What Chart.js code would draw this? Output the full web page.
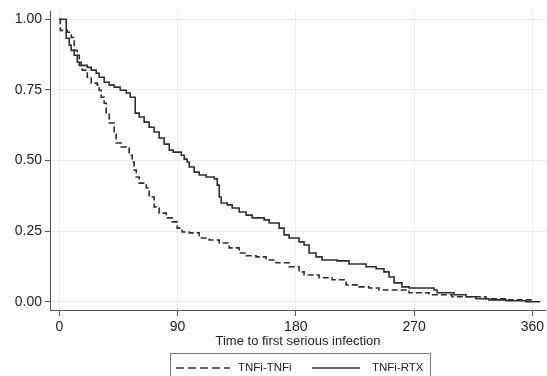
<!DOCTYPE html>
<html>
<head>
    <title>Time to first serious infection</title>
    <script src="https://cdn.jsdelivr.net/npm/chart.js"></script>
    <style>
        html, body { margin: 0; padding: 0; background: white; }
        #wrap { width: 547px; height: 376px; position: relative; }
    </style>
</head>
<body>
<div id="wrap"><canvas id="kmChart" width="547" height="376"></canvas></div>
<script>
    // Kaplan-Meier estimates (days, survival)
    const rtxTime = [0, 5.3, 7.6, 9.1, 11.4, 13.7, 16.7, 21.3, 24.3, 28.1, 30.4, 34.2, 38.0, 41.8, 46.4, 51.0, 54.0,
        57.8, 60.8, 64.6, 68.4, 72.2, 76.0, 79.8, 83.7, 86.7, 92.8, 95.1, 97.3, 98.9, 102.7, 106.5, 111.8, 117.9,
        120.2, 121.7, 123.2, 127.8, 131.6, 136.9, 142.2, 146.8, 155.9, 159.7, 167.3, 171.1, 174.9, 182.5, 186.3,
        190.1, 195.4, 200.0, 211.4, 220.5, 233.5, 241.1, 247.1, 251.0, 254.8, 260.8, 266.2, 285.2, 287.5, 300.4,
        309.5, 317.1, 327.0, 340.0, 355.0, 366.0];
    const rtxSurv = [1.000, 0.933, 0.908, 0.890, 0.873, 0.848, 0.837, 0.830, 0.820, 0.809, 0.795, 0.777, 0.767, 0.760,
        0.749, 0.739, 0.724, 0.668, 0.654, 0.636, 0.618, 0.601, 0.580, 0.558, 0.537, 0.530, 0.519, 0.505, 0.495,
        0.477, 0.459, 0.449, 0.442, 0.435, 0.413, 0.371, 0.350, 0.343, 0.332, 0.318, 0.307, 0.297, 0.290, 0.279,
        0.261, 0.237, 0.226, 0.212, 0.201, 0.173, 0.159, 0.148, 0.145, 0.134, 0.124, 0.117, 0.106, 0.088, 0.067,
        0.053, 0.049, 0.042, 0.032, 0.025, 0.018, 0.011, 0.007, 0.004, 0.000, 0.000];

    const tnfTime = [0, 0.8, 6.1, 9.1, 11.4, 13.7, 15.2, 17.5, 21.3, 24.3, 28.9, 30.4, 31.9, 34.2, 35.7, 38.0, 41.8,
        43.3, 47.1, 51.0, 53.2, 55.5, 57.0, 58.6, 60.8, 66.2, 68.4, 72.2, 76.0, 81.4, 85.9, 89.7, 93.5, 98.9, 106.5,
        114.1, 121.7, 129.3, 136.9, 142.2, 149.8, 157.4, 165.0, 174.9, 182.5, 186.3, 197.7, 207.6, 218.3, 228.1,
        235.7, 243.3, 266.2, 281.4, 298.9, 324.7, 342.0, 361.0];
    const tnfSurv = [1.000, 0.961, 0.954, 0.936, 0.890, 0.873, 0.837, 0.820, 0.795, 0.774, 0.767, 0.749, 0.724, 0.703,
        0.668, 0.633, 0.597, 0.562, 0.548, 0.544, 0.519, 0.495, 0.466, 0.442, 0.420, 0.403, 0.371, 0.336, 0.314,
        0.297, 0.283, 0.261, 0.247, 0.244, 0.226, 0.219, 0.208, 0.191, 0.173, 0.163, 0.159, 0.148, 0.138, 0.124,
        0.106, 0.095, 0.085, 0.078, 0.060, 0.053, 0.049, 0.042, 0.032, 0.025, 0.018, 0.011, 0.007, 0.000];

    const xTicks = [0, 90, 180, 270, 360];
    const yTicks = [0, 0.25, 0.5, 0.75, 1];
    const seriesNames = ['TNFi-TNFi', 'TNFi-RTX'];
    const xTitle = 'Time to first serious infection';

    const FONT = '"Liberation Sans", Arial, Helvetica, sans-serif';
    const INK = '#2e2e2e';

    function toPoints(ts, ss) {
        return ts.map((t, i) => ({x: t, y: ss[i]}));
    }

    // legend box under the axis title
    const boxLegend = {
        id: 'boxLegend',
        afterDraw(chart) {
            let ctx = chart.ctx;
            ctx.save();
            ctx.strokeStyle = '#777';
            ctx.lineWidth = 1;
            ctx.strokeRect(170.5, 353.5, 260, 30);

            ctx.strokeStyle = INK;
            ctx.lineWidth = 1.5;
            ctx.setLineDash([8, 4]);
            ctx.beginPath();
            ctx.moveTo(176, 368);
            ctx.lineTo(230, 368);
            ctx.stroke();
            ctx.setLineDash([]);
            ctx.beginPath();
            ctx.moveTo(312, 368);
            ctx.lineTo(360, 368);
            ctx.stroke();

            ctx.fillStyle = '#222';
            ctx.font = '11.5px ' + FONT;
            ctx.textBaseline = 'middle';
            ctx.textAlign = 'left';
            ctx.fillText(seriesNames[0], 238, 368);
            ctx.fillText(seriesNames[1], 372, 368);
            ctx.restore();
        }
    };

    new Chart(document.getElementById('kmChart'), {
        type: 'line',
        data: {
            datasets: [{
                label: seriesNames[0],
                data: toPoints(tnfTime, tnfSurv),
                borderColor: INK,
                borderWidth: 1.6,
                borderDash: [6, 3],
                stepped: true,
                pointRadius: 0,
                fill: false
            }, {
                label: seriesNames[1],
                data: toPoints(rtxTime, rtxSurv),
                borderColor: INK,
                borderWidth: 1.6,
                stepped: true,
                pointRadius: 0,
                fill: false
            }]
        },
        options: {
            responsive: false,
            animation: false,
            layout: { padding: { left: 0, right: 0, top: 11, bottom: 27 } },
            plugins: {
                legend: { display: false },
                tooltip: { enabled: false }
            },
            scales: {
                x: {
                    type: 'linear',
                    min: -7.06,
                    max: 370.4,
                    afterBuildTicks: s => { s.ticks = xTicks.map(v => ({value: v})); },
                    afterFit: s => { s.height = 39; },
                    grid: { color: '#ececec', tickColor: '#555', tickLength: 6 },
                    border: { color: '#555', width: 1 },
                    ticks: {
                        color: '#222',
                        font: { family: FONT, size: 14 },
                        padding: 3,
                        maxRotation: 0
                    },
                    title: {
                        display: true,
                        text: xTitle,
                        color: '#222',
                        font: { family: FONT, size: 13 },
                        padding: 0
                    }
                },
                y: {
                    min: -0.029,
                    max: 1.028,
                    afterBuildTicks: s => { s.ticks = yTicks.map(v => ({value: v})); },
                    afterFit: s => { s.width = 50; },
                    grid: { color: '#ececec', tickColor: '#555', tickLength: 5 },
                    border: { color: '#555', width: 1 },
                    ticks: {
                        color: '#222',
                        font: { family: FONT, size: 14 },
                        padding: 3,
                        callback: v => v.toFixed(2)
                    }
                }
            }
        },
        plugins: [boxLegend]
    });
</script>
</body>
</html>
